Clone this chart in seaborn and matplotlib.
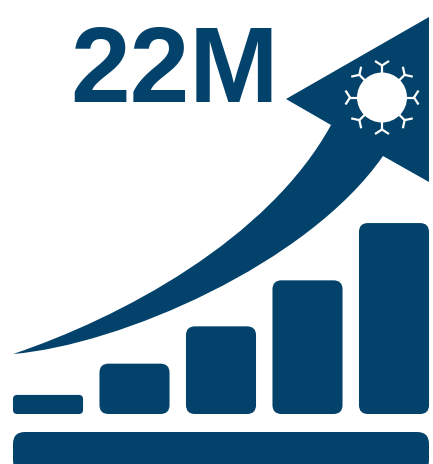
import numpy as np
import matplotlib
matplotlib.use("Agg")
import matplotlib.pyplot as plt
import pandas as pd
import seaborn as sns
from matplotlib.patches import Circle, FancyBboxPatch, PathPatch
from matplotlib.path import Path
from matplotlib.transforms import Affine2D

NAVY = "#02426B"
W, H = 433, 464

# Growth steps, in millions, ending at the headline figure
steps = ["a", "b", "c", "d", "e"]
millions = [2.2, 5.8, 10.1, 15.4, 22.0]
headline = "22M"

sns.set_theme(style="white")
fig = plt.figure(figsize=((W + 0.01) / 100, (H + 0.01) / 100), dpi=100)
ax = fig.add_axes([0, 0, 1, 1])

frame = pd.DataFrame({"step": steps, "millions": millions})
sns.barplot(data=frame, x="step", y="millions", color=NAVY, width=0.81,
            saturation=1, ax=ax)
ax.set_xlim(-0.555, 4.451)
ax.set_ylim(-5.76, 47.7)
ax.axis("off")

# Pixel space for the pictogram parts, y pointing down
px = Affine2D().scale(1, -1).translate(0, H)


def rounded(x0, y0, x1, y1, r, transform):
    """Rounded rectangle whose radius is given in pixels."""
    return FancyBboxPatch((x0 + r, y0 + r), x1 - x0 - 2 * r, y1 - y0 - 2 * r,
                          boxstyle=f"round,pad={r},rounding_size={r}",
                          fc=NAVY, ec="none", transform=transform)


# Swap the square bars for rounded ones of the same extent
for bar in list(ax.patches):
    box = bar.get_window_extent()
    bar.remove()
    ax.add_patch(rounded(box.x0, H - box.y1, box.x1, H - box.y0,
                         min(9, box.height * 0.22), px))

# Ground slab beneath the bars
ax.add_patch(rounded(13, 432, 429, 472, 12, px))

# Swooping arrow: upper edge, head, then lower edge back to the tail
verts = [(13, 354), (120, 318), (268, 240), (331, 125), (286, 99), (429, 17),
         (429, 182), (383, 156), (308, 264), (120, 345), (13, 354), (13, 354)]
codes = [Path.MOVETO, Path.CURVE4, Path.CURVE4, Path.CURVE4, Path.LINETO,
         Path.LINETO, Path.LINETO, Path.LINETO, Path.CURVE4, Path.CURVE4,
         Path.CURVE4, Path.CLOSEPOLY]
ax.add_patch(PathPatch(Path(verts, codes), fc=NAVY, ec="none", transform=px))

# Virus emblem inside the arrow head
cx, cy = 382, 97.5
ax.add_patch(Circle((cx, cy), 25, fc="white", ec="none", transform=px))
for angle in np.radians(np.arange(0, 360, 45)):
    u = np.array([np.cos(angle), np.sin(angle)])
    v = np.array([-u[1], u[0]])
    c = np.array([cx, cy])
    fork = c + 32 * u
    ax.plot(*zip(c + 24 * u, fork), color="white", lw=1.6, transform=px,
            solid_capstyle="butt")
    for side in (-1, 1):
        ax.plot(*zip(fork, fork + 4.5 * u + side * 7 * v), color="white", lw=1.6,
                transform=px, solid_capstyle="butt")

ax.text(174, 102, headline, transform=px, ha="center", va="baseline",
        color=NAVY, fontsize=77.2, fontweight="bold", family="Liberation Sans")

fig.savefig("out.png", dpi=100)
